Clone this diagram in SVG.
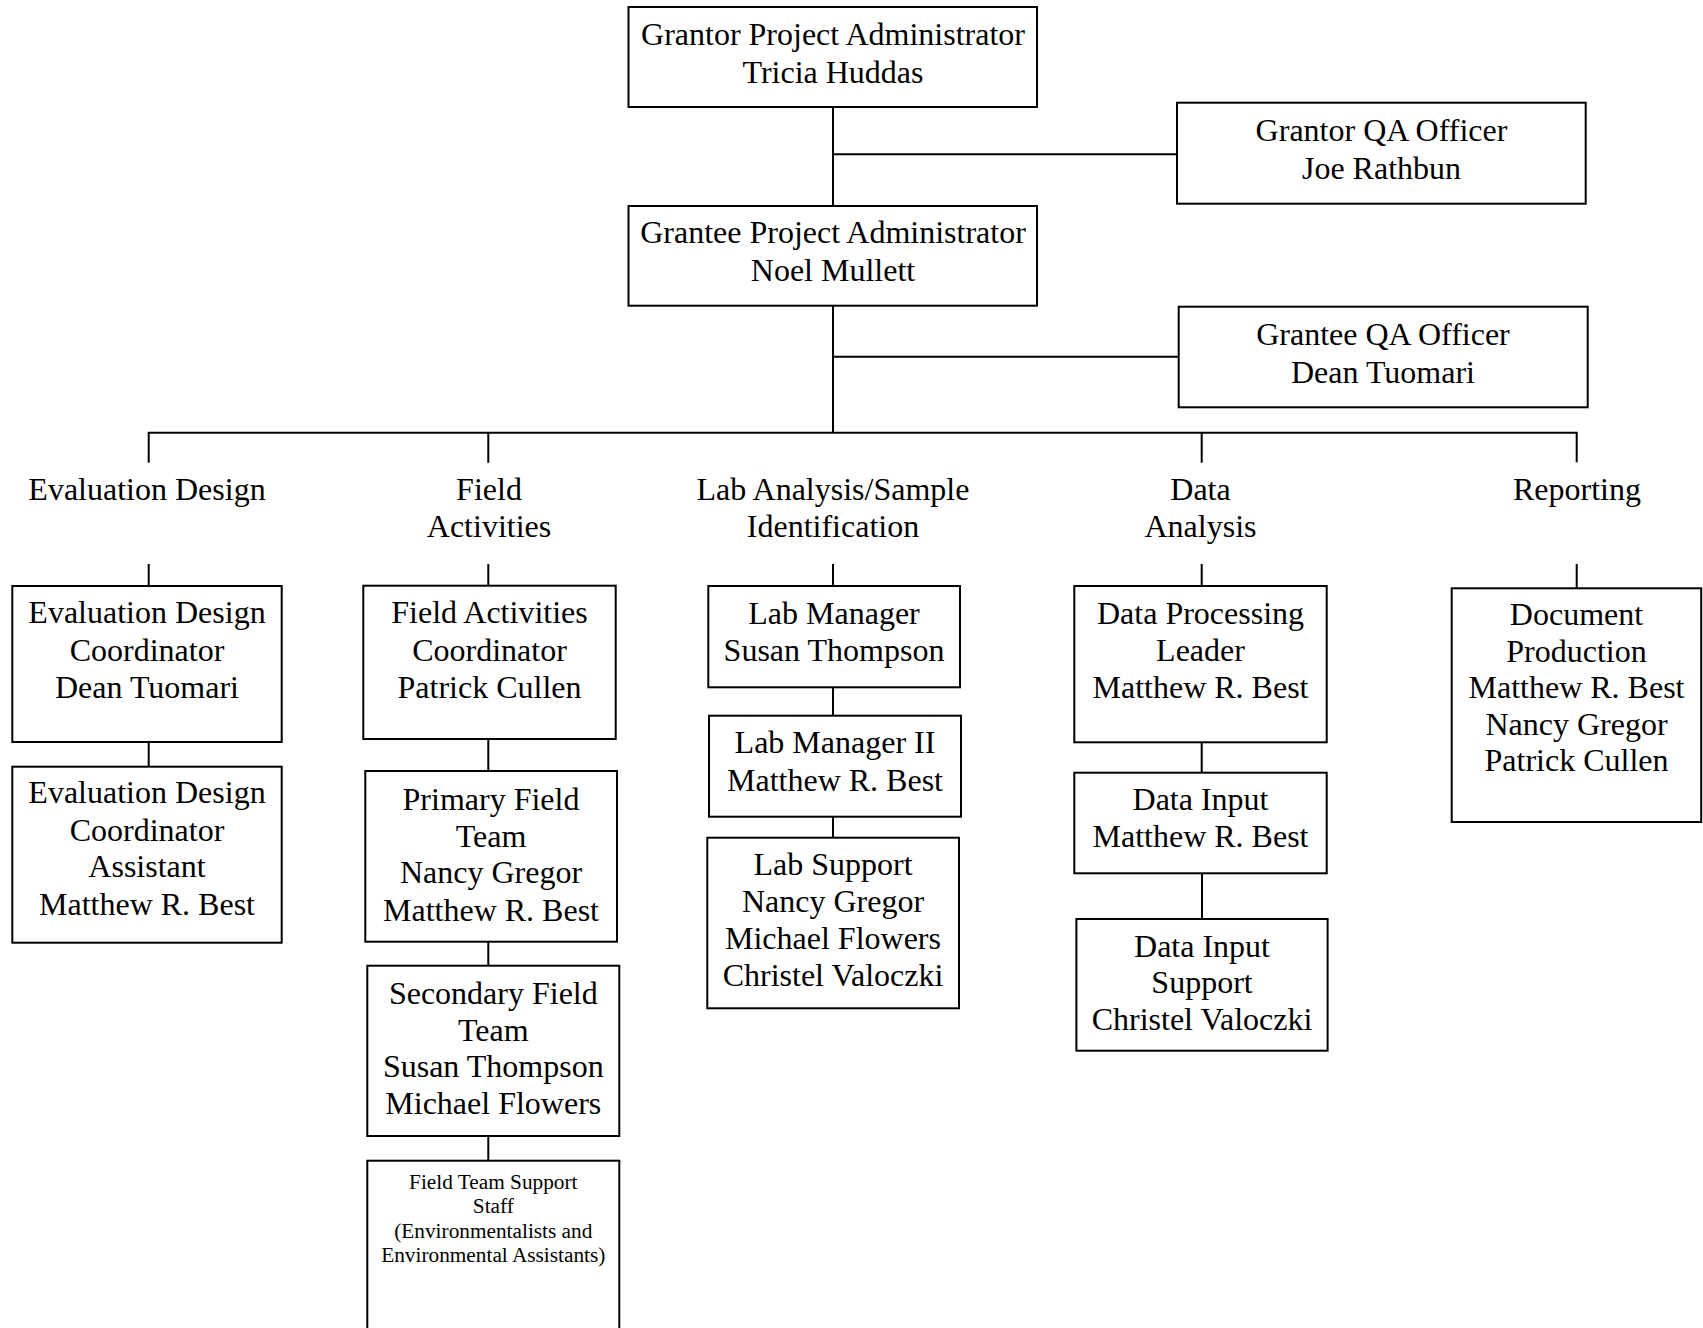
<svg xmlns="http://www.w3.org/2000/svg" width="1703" height="1328" viewBox="0 0 1703 1328">
<style>
rect{fill:#fff;stroke:#000;stroke-width:2}
.c path{fill:none;stroke:#000;stroke-width:2}
text{font-family:"Liberation Serif","Times New Roman",serif;font-size:32px;fill:#000;text-anchor:middle}
text.s{font-size:21.3px}
</style>
<rect x="0" y="0" width="1703" height="1328" style="stroke:none"/>
<g class="c" id="connectors">
<path d="M833 107V206M833 154.3H1177M833 305.7V432.7M833 356.7H1178.7"/>
<path d="M148.7 462.7V432.7H1576.7V462.3M488.3 432.7V462.7M1201.7 432.7V462.7"/>
<path d="M148.7 564V586M488.3 564V585.7M833 564V586M1201.7 564V586M1576.7 564V588.3"/>
<path d="M148.7 742V766.7"/>
<path d="M488.3 739V771M488.3 941.7V965.7M488.3 1136V1160.7"/>
<path d="M833 687.3V715.7M833 816.7V837.7"/>
<path d="M1201.7 742.3V772.7M1202 873.3V919"/>
</g>
<g id="grantor-pa"><rect x="628.5" y="7" width="408.5" height="100"/><text x="833" y="45">Grantor Project Administrator</text><text x="833" y="82.5">Tricia Huddas</text></g>
<g id="grantee-pa"><rect x="628.5" y="206" width="408.5" height="99.7"/><text x="833" y="243.3">Grantee Project Administrator</text><text x="833" y="281">Noel Mullett</text></g>
<g id="grantor-qa"><rect x="1177" y="102.7" width="408.7" height="101"/><text x="1381.5" y="140.5">Grantor QA Officer</text><text x="1381.5" y="178.5">Joe Rathbun</text></g>
<g id="grantee-qa"><rect x="1178.7" y="306.7" width="409" height="100.6"/><text x="1383" y="345">Grantee QA Officer</text><text x="1383" y="382.7">Dean Tuomari</text></g>
<g id="label-eval"><text x="147" y="500">Evaluation Design</text></g>
<g id="label-field"><text x="489" y="500">Field</text><text x="489" y="536.7">Activities</text></g>
<g id="label-lab"><text x="833" y="500">Lab Analysis/Sample</text><text x="833" y="536.7">Identification</text></g>
<g id="label-data"><text x="1200.5" y="500">Data</text><text x="1200.5" y="536.7">Analysis</text></g>
<g id="label-reporting"><text x="1577" y="500">Reporting</text></g>
<g id="eval-coord"><rect x="12.3" y="586" width="269.4" height="156"/><text x="147" y="623.3">Evaluation Design</text><text x="147" y="660.7">Coordinator</text><text x="147" y="698.3">Dean Tuomari</text></g>
<g id="eval-assist"><rect x="12.3" y="766.7" width="269.4" height="176"/><text x="147" y="803.3">Evaluation Design</text><text x="147" y="840.7">Coordinator</text><text x="147" y="877.3">Assistant</text><text x="147" y="915">Matthew R. Best</text></g>
<g id="field-coord"><rect x="363.3" y="585.7" width="252.4" height="153.3"/><text x="489.5" y="623.3">Field Activities</text><text x="489.5" y="660.7">Coordinator</text><text x="489.5" y="698.3">Patrick Cullen</text></g>
<g id="primary-field"><rect x="365.3" y="771" width="251.7" height="170.7"/><text x="491" y="810">Primary Field</text><text x="491" y="846.7">Team</text><text x="491" y="883.3">Nancy Gregor</text><text x="491" y="920.7">Matthew R. Best</text></g>
<g id="secondary-field"><rect x="367.3" y="965.7" width="252" height="170.3"/><text x="493.3" y="1004">Secondary Field</text><text x="493.3" y="1040.7">Team</text><text x="493.3" y="1077.3">Susan Thompson</text><text x="493.3" y="1114">Michael Flowers</text></g>
<g id="field-support"><rect x="367.3" y="1160.7" width="252" height="200"/><text class="s" x="493.3" y="1189">Field Team Support</text><text class="s" x="493.3" y="1213">Staff</text><text class="s" x="493.3" y="1237.5">(Environmentalists and</text><text class="s" x="493.3" y="1261.7">Environmental Assistants)</text></g>
<g id="lab-manager"><rect x="708.3" y="586" width="251.7" height="101.3"/><text x="834" y="624">Lab Manager</text><text x="834" y="660.7">Susan Thompson</text></g>
<g id="lab-manager-2"><rect x="709" y="715.7" width="252" height="101"/><text x="835" y="753.3">Lab Manager II</text><text x="835" y="790.7">Matthew R. Best</text></g>
<g id="lab-support"><rect x="707.3" y="837.7" width="251.7" height="170.6"/><text x="833" y="875">Lab Support</text><text x="833" y="911.7">Nancy Gregor</text><text x="833" y="949.3">Michael Flowers</text><text x="833" y="985.7">Christel Valoczki</text></g>
<g id="data-processing"><rect x="1074.3" y="586" width="252.4" height="156.3"/><text x="1200.5" y="624">Data Processing</text><text x="1200.5" y="660.7">Leader</text><text x="1200.5" y="698.3">Matthew R. Best</text></g>
<g id="data-input"><rect x="1074.3" y="772.7" width="252.4" height="100.6"/><text x="1200.5" y="810">Data Input</text><text x="1200.5" y="847.3">Matthew R. Best</text></g>
<g id="data-input-support"><rect x="1076.4" y="919" width="251.2" height="131.7"/><text x="1202" y="956.7">Data Input</text><text x="1202" y="993.3">Support</text><text x="1202" y="1030">Christel Valoczki</text></g>
<g id="document-production"><rect x="1451.7" y="588.3" width="249.5" height="233.7"/><text x="1576.5" y="625">Document</text><text x="1576.5" y="661.5">Production</text><text x="1576.5" y="698">Matthew R. Best</text><text x="1576.5" y="734.5">Nancy Gregor</text><text x="1576.5" y="771">Patrick Cullen</text></g>
</svg>
